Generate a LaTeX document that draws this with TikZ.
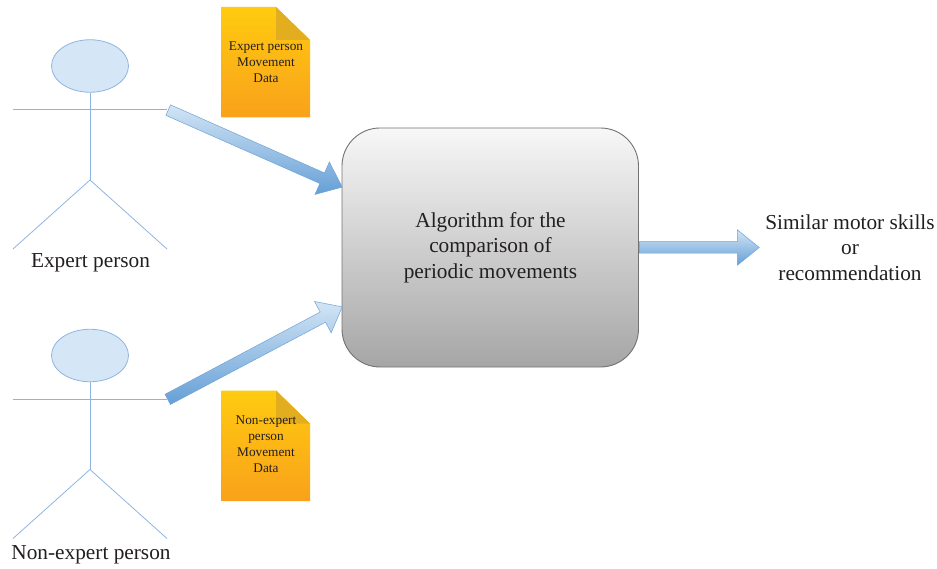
\documentclass[tikz,border=0pt]{standalone}
\usepackage{fontspec}
\setmainfont{Liberation Serif}
\usetikzlibrary{shapes.geometric,shapes.arrows,calc}
\definecolor{actorline}{HTML}{8FB4E0}
\definecolor{actorfill}{HTML}{D5E7F6}
\definecolor{arrowtop}{HTML}{D3E5F5}
\definecolor{arrowbot}{HTML}{659FD6}
\definecolor{arrowline}{HTML}{6FA3D8}
\definecolor{doctop}{HTML}{FFCB10}
\definecolor{docbot}{HTML}{F9A11B}
\definecolor{docfold}{HTML}{E3AD20}
\definecolor{inkcol}{HTML}{231F20}
\tikzset{
  x=1pt,y=-1pt,
  actorstroke/.style={draw=actorline,line width=0.8pt},
  actorhead/.style={ellipse,draw=actorline,line width=0.8pt,fill=actorfill,minimum width=77pt,minimum height=52.5pt,inner sep=0pt},
  blockarrow/.style={single arrow,draw=arrowline,line width=0.5pt,top color=arrowtop,bottom color=arrowbot,
    inner sep=0pt,text height=11pt,text depth=0pt,text width=1pt,single arrow head extend=12pt,single arrow tip angle=78,anchor=tail},
  docpage/.style={top color=doctop,bottom color=docbot},
  docfoldpart/.style={fill=docfold},
  doctext/.style={align=center,text=inkcol,inner sep=0pt,font=\fontsize{13.3}{16}\selectfont},
  caption/.style={align=center,text=inkcol,inner sep=0pt,font=\fontsize{21.3}{25.5}\selectfont},
  algobox/.style={rounded corners=38pt,draw=black!55,line width=0.9pt,top color=black!3,bottom color=black!35,
    minimum width=296.5pt,minimum height=239pt,inner sep=0pt}
}
\newcommand{\blockarrowdraw}[3]{%
  \path let \p1=($(#2)-(#1)$), \n1={atan2(\y1,\x1)}, \n2={veclen(\x1,\y1)} in
    node[blockarrow,minimum height=\n2,rotate=\n1] (#3) at (#1) {};}
\newcommand{\actordraw}[2]{% name, y of shoulders
  \coordinate (#1L) at (13,#2);
  \coordinate (#1R) at (167,#2);
  \coordinate (#1H) at (90,#2+70.5);
  \coordinate (#1FL) at (13,#2+139.5);
  \coordinate (#1FR) at (167,#2+139.5);
  \node[actorhead] (#1head) at (90,#2-43.5) {};
  \draw[actorstroke] (#1L) -- (#1R);
  \draw[actorstroke] (#1head.south) -- (#1H);
  \draw[actorstroke] (#1FL) -- (#1H) -- (#1FR);}
\newcommand{\docdraw}[2]{% name, top y
  \coordinate (#1a) at (221.5,#2);
  \coordinate (#1b) at (276,#2);
  \coordinate (#1c) at (310,#2+33);
  \coordinate (#1d) at (310,#2+110.5);
  \coordinate (#1e) at (221.5,#2+110.5);
  \coordinate (#1f) at (276,#2+33);
  \shade[docpage] (#1a) -- (#1b) -- (#1c) -- (#1d) -- (#1e) -- cycle;
  \fill[docfoldpart] (#1b) -- (#1c) -- (#1f) -- cycle;}
\begin{document}
\begin{tikzpicture}
\useasboundingbox (0,0) rectangle (937,569);
\actordraw{exp}{109.5}
\actordraw{non}{399}
\docdraw{da}{7}
\docdraw{db}{390.5}
\node[doctext] (datext) at (266,62) {Expert person\\Movement\\Data};
\node[doctext] (dbtext) at (266,444.5) {Non-expert\\person\\Movement\\Data};
\node[algobox] (algo) at (490.25,247.5) {};
\node[caption] (algotext) at (490.5,247.5) {Algorithm for the\\comparison of\\periodic movements};
\node[caption] (explabel) at (90.5,262.5) {Expert person};
\node[caption] (nonlabel) at (91,554.5) {Non-expert person};
\node[caption] (result) at (850,247.5) {Similar motor skills\\or\\recommendation};
\coordinate (a1s) at (168,110);
\coordinate (a1e) at (342,187);
\coordinate (a2s) at (167.5,399.5);
\coordinate (a2e) at (342,307);
\coordinate (a3s) at (639,247.5);
\coordinate (a3e) at (759,247.5);
\blockarrowdraw{a1s}{a1e}{arrowone}
\blockarrowdraw{a2s}{a2e}{arrowtwo}
\blockarrowdraw{a3s}{a3e}{arrowthree}
\end{tikzpicture}
\end{document}
